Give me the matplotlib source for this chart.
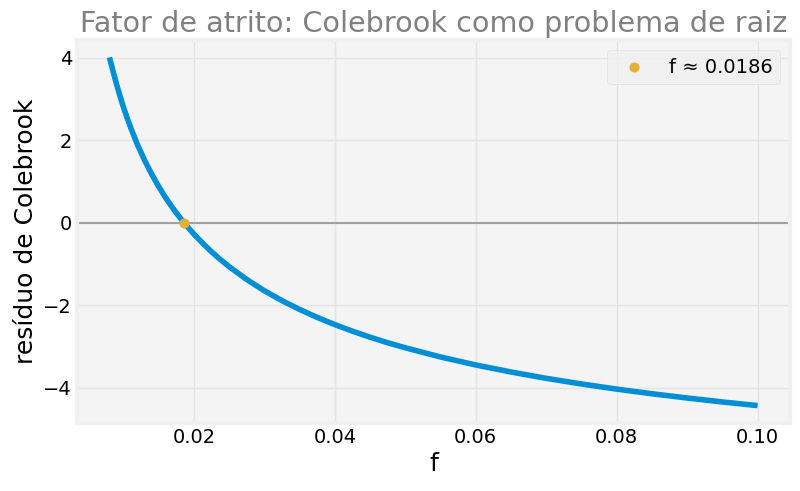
import matplotlib
matplotlib.use("Agg")
import matplotlib.pyplot as plt

f_vals = [0.008, 0.0085, 0.009, 0.0095, 0.010, 0.0105, 0.011, 0.012, 0.013, 0.014,
          0.015, 0.016, 0.017, 0.0175, 0.0186, 0.020, 0.0215, 0.0225, 0.0235, 0.025,
          0.0275, 0.030, 0.0325, 0.035, 0.0375, 0.040, 0.0425, 0.045, 0.0475, 0.050,
          0.055, 0.060, 0.065, 0.070, 0.075, 0.080, 0.085, 0.090, 0.095, 0.100]
residuo = [4.010, 3.687, 3.368, 3.074, 2.802, 2.550, 2.315, 1.889, 1.514, 1.179,
           0.877, 0.604, 0.356, 0.239, 0.000, -0.275, -0.540, -0.702, -0.854, -1.063,
           -1.375, -1.647, -1.887, -2.101, -2.294, -2.468, -2.627, -2.773, -2.907, -3.030,
           -3.252, -3.446, -3.617, -3.770, -3.907, -4.031, -4.144, -4.247, -4.343, -4.431]
raiz_f = 0.0186
raiz_y = 0.0

plt.style.use("fivethirtyeight")
plt.rcParams["font.family"] = ["DejaVu Sans"]

fig = plt.figure(figsize=(8, 4.91), dpi=100, facecolor="white")
ax = fig.add_axes([77/800, 1 - 423/491, (790-77)/800, (423-40)/491])
ax.set_facecolor("#f4f4f4")
ax.grid(True, color="#e4e4e4", linewidth=1)

ax.axhline(0, color="#999999", linewidth=1.3, zorder=1)
ax.plot(f_vals, residuo, color="#008fd5", linewidth=4, zorder=2)
ax.scatter([raiz_f], [raiz_y], color="#e5ae38", s=45, zorder=3,
           label=f"f ≈ {raiz_f}")

ax.set_title("Fator de atrito: Colebrook como problema de raiz",
             color="#808080", fontsize=20.6, pad=6)
ax.set_xlabel("f", fontsize=18)
ax.set_ylabel("resíduo de Colebrook", fontsize=18)
ax.tick_params(labelsize=14)
ax.set_xticks([0.02, 0.04, 0.06, 0.08, 0.10])
ax.set_yticks([-4, -2, 0, 2, 4])
ax.legend(loc="upper right", fontsize=14, frameon=True, facecolor="#f0f0f0",
          edgecolor="#dddddd")

fig.savefig("out.png", dpi=100, facecolor="white")
